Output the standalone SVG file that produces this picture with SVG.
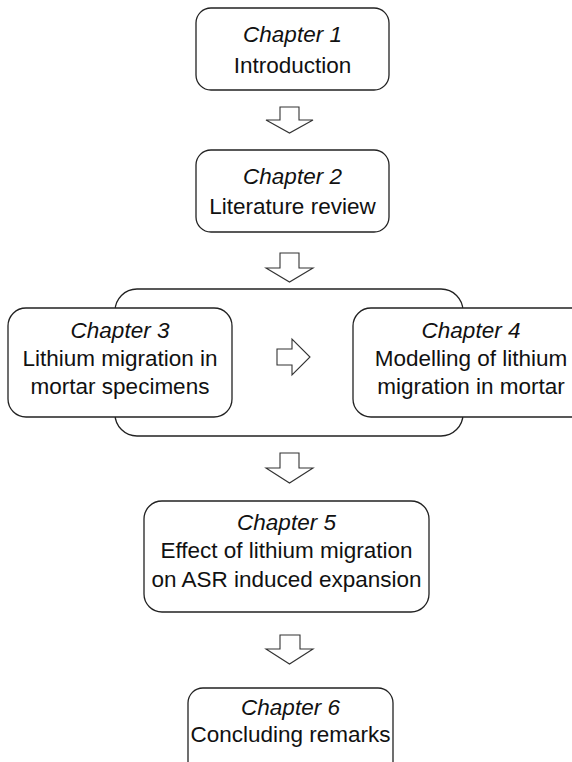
<svg xmlns="http://www.w3.org/2000/svg" width="572" height="762" viewBox="0 0 572 762">
<style>
.box{fill:#fff;stroke:#222;stroke-width:1.3}
.arr{fill:#fff;stroke:#333;stroke-width:1.1;stroke-linejoin:miter}
text{font-family:"Liberation Sans",Arial,sans-serif;font-size:22.5px;fill:#111;text-anchor:middle}
.it{font-style:italic}
</style>
<rect width="572" height="762" fill="#fff"/>
<g id="container"><rect class="box" x="115" y="289" width="348" height="147" rx="22"/></g>
<g id="ch1"><rect class="box" x="196" y="8" width="193" height="82" rx="15"/>
<text class="it" x="292.5" y="42">Chapter 1</text><text x="292.5" y="73">Introduction</text></g>
<g id="ch2"><rect class="box" x="196" y="150" width="193" height="82" rx="15"/>
<text class="it" x="292.5" y="184">Chapter 2</text><text x="292.5" y="214">Literature review</text></g>
<g id="ch3"><rect class="box" x="8" y="308" width="224" height="109" rx="18"/>
<text class="it" x="120" y="338">Chapter 3</text><text x="120" y="366">Lithium migration in</text><text x="120" y="394">mortar specimens</text></g>
<g id="ch4"><rect class="box" x="353" y="308" width="236" height="109" rx="18"/>
<text class="it" x="471" y="338">Chapter 4</text><text x="471" y="366">Modelling of lithium</text><text x="471" y="394">migration in mortar</text></g>
<g id="ch5"><rect class="box" x="144" y="501" width="285" height="111" rx="18"/>
<text class="it" x="286.5" y="530">Chapter 5</text><text x="286.5" y="558">Effect of lithium migration</text><text x="286.5" y="587">on ASR induced expansion</text></g>
<g id="ch6"><rect class="box" x="188" y="688" width="205" height="100" rx="15"/>
<text class="it" x="290.5" y="715">Chapter 6</text><text x="290.5" y="742">Concluding remarks</text></g>
<g id="connectors">
<path class="arr" d="M280,107 H299 V120 H313 L289.5,133 L266,120 H280 Z"/>
<path class="arr" d="M280,253 H299 V268 H313 L289.5,282 L266,268 H280 Z"/>
<path class="arr" d="M277,349 H292 V339 L310,357 L292,375 V365 H277 Z"/>
<path class="arr" d="M280,453 H299 V468 H313 L289.5,483 L266,468 H280 Z"/>
<path class="arr" d="M280,635 H300 V649 H313 L289.5,664 L266,649 H280 Z"/>
</g>
</svg>
